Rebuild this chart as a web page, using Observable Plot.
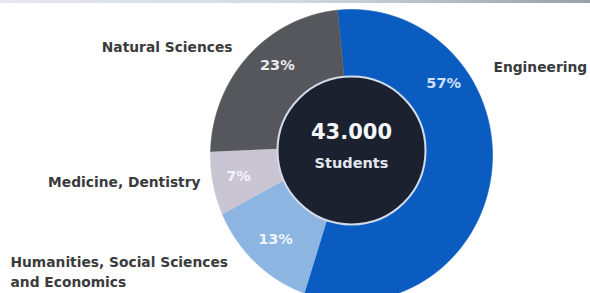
<!DOCTYPE html>
<html>
<head>
<meta charset="utf-8">
<script src="https://cdn.jsdelivr.net/npm/d3@7"></script>
<script src="https://cdn.jsdelivr.net/npm/@observablehq/plot@0.6"></script>
<style>
  html, body { margin: 0; padding: 0; background: #ffffff; }
  #chart { position: relative; width: 590px; height: 293px; overflow: hidden; }
  #topline { position: absolute; left: 0; top: 0; width: 590px; height: 3px;
    background: linear-gradient(to right, #e4e8ee, #d3d9e0 50%, #9aa0a8); }
</style>
</head>
<body>
<div id="chart"><div id="topline"></div></div>
<script>
// ---- data ----
const categories = ["Engineering", "Humanities, Social Sciences\nand Economics", "Medicine, Dentistry", "Natural Sciences"];
const shares = [57, 13, 7, 23];
const pctLabels = ["57%", "13%", "7%", "23%"];
const totalValue = "43.000";
const totalUnit = "Students";

// ---- styles / layout ----
const sliceColors = ["#0b5cc1", "#8cb5e2", "#c9c5d3", "#56575d"];
const pctColors = ["#cfe1f7", "#eef4fb", "#f4f2f8", "#ebebeb"];
const W = 590, H = 293;
const cx = 351, cy = 150;                 // hole centre
const cyOuter = 155, rxOuter = 141, ryOuter = 146; // outer rim (photo is slightly stretched)
const rInner = 72, rHole = 74;
const startAngle = -0.1; // radians, clockwise from 12 o'clock
// label anchor layout (pixel space): [x, y, textAnchor]
const catLayout = [[493, 65, "start"], [10, 270, "start"], [200, 182, "end"], [232, 47, "end"]];
// percent label polar layout around the hole centre: [angle in degrees, radius]
const pctLayout = [[54, 114], [220.5, 117], [257, 116], [319, 113]];

const arcs = d3.pie().sort(null).startAngle(startAngle).endAngle(startAngle + 2 * Math.PI)(shares);

const polys = [];
arcs.forEach((d, i) => {
  const n = 90;
  for (let k = 0; k <= n; k++) {
    const a = d.startAngle + (d.endAngle - d.startAngle) * k / n;
    polys.push({cat: categories[i], x: cx + rxOuter * Math.sin(a), y: cyOuter - ryOuter * Math.cos(a)});
  }
  for (let k = n; k >= 0; k--) {
    const a = d.startAngle + (d.endAngle - d.startAngle) * k / n;
    polys.push({cat: categories[i], x: cx + rInner * Math.sin(a), y: cy - rInner * Math.cos(a)});
  }
});

const pctData = pctLabels.map((t, i) => {
  const [deg, r] = pctLayout[i];
  const a = deg * Math.PI / 180;
  return {label: t, color: pctColors[i], x: cx + r * Math.sin(a), y: cy - r * Math.cos(a)};
});
const catData = categories.map((c, i) => ({label: c, x: catLayout[i][0], y: catLayout[i][1], anchor: catLayout[i][2]}));

const font = "DejaVu Sans, Liberation Sans, Arial, sans-serif";

const chart = Plot.plot({
  width: W, height: H,
  margin: 0,
  x: {domain: [0, W], range: [0, W], axis: null},
  y: {domain: [0, H], range: [0, H], axis: null},
  color: {domain: categories, range: sliceColors},
  style: {background: "transparent", fontFamily: font},
  marks: [
    Plot.line(polys, {x: "x", y: "y", z: "cat", fill: "cat", stroke: "cat", strokeWidth: 0.6, curve: "linear"}),
    Plot.dot([{x: cx, y: cy}], {x: "x", y: "y", r: rHole, fill: "#1b212e", stroke: "#d3dceb", strokeWidth: 2}),
    Plot.text(pctData, {x: "x", y: "y", text: "label", fill: d => d.color, fontSize: 14.5, fontWeight: "bold", fontFamily: font}),
    Plot.text([totalValue], {x: () => cx, y: () => cy - 18, text: d => d, fill: "#f4f6fa", fontSize: 21, fontWeight: "bold", fontFamily: font}),
    Plot.text([totalUnit], {x: () => cx, y: () => cy + 13, text: d => d, fill: "#e2e6ee", fontSize: 14.5, fontWeight: "bold", fontFamily: font}),
    Plot.text(catData.filter(d => d.anchor === "start"), {x: "x", y: "y", text: "label", textAnchor: "start", lineHeight: 1.5, fill: "#3b3b3d", fontSize: 13.8, fontWeight: "bold", fontFamily: font}),
    Plot.text(catData.filter(d => d.anchor === "end"), {x: "x", y: "y", text: "label", textAnchor: "end", fill: "#3b3b3d", fontSize: 13.8, fontWeight: "bold", fontFamily: font})
  ]
});
document.getElementById("chart").appendChild(chart);
</script>
</body>
</html>
